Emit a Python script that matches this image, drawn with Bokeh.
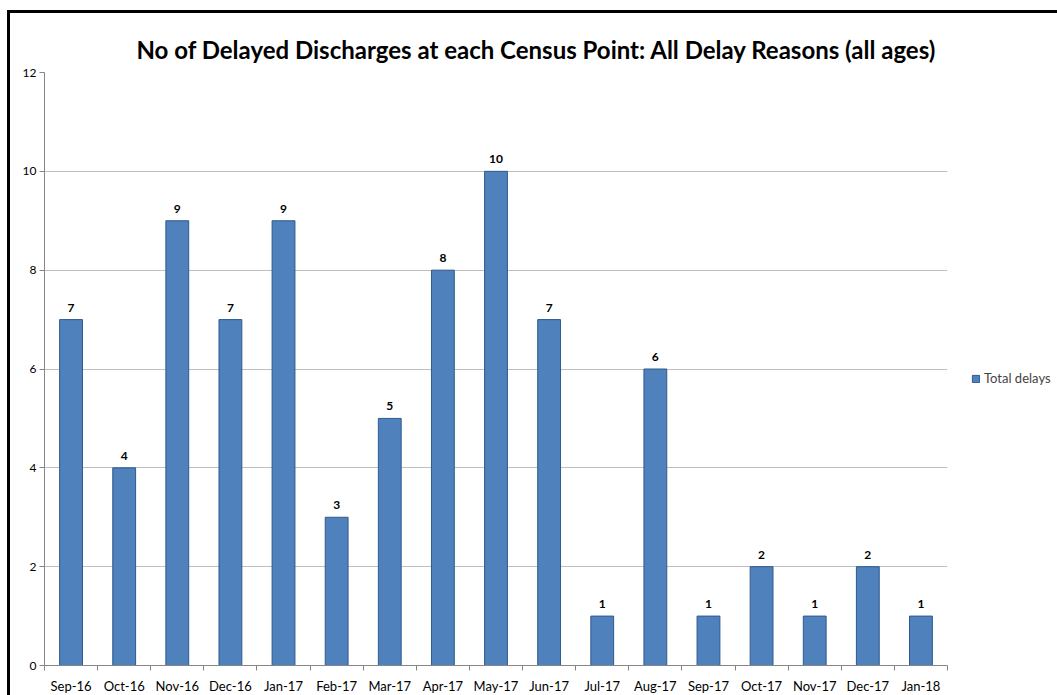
from bokeh.plotting import figure
from bokeh.models import (ColumnDataSource, LabelSet, FixedTicker, Legend, LegendItem,
                          Range1d, Title, InlineStyleSheet)
from bokeh.core.properties import value
from bokeh.embed import file_html
from bokeh.resources import INLINE

months = ["Sep-16", "Oct-16", "Nov-16", "Dec-16", "Jan-17", "Feb-17", "Mar-17", "Apr-17",
          "May-17", "Jun-17", "Jul-17", "Aug-17", "Sep-17", "Oct-17", "Nov-17", "Dec-17", "Jan-18"]
total_delays = [7, 4, 9, 7, 9, 3, 5, 8, 10, 7, 1, 6, 1, 2, 1, 2, 1]
y_ticks = [0, 2, 4, 6, 8, 10, 12]
title_text = "No of Delayed Discharges at each Census Point: All Delay Reasons (all ages)"
series_name = "Total delays"

FONT = "Lato"
n = len(months)
xs = [i + 0.5 for i in range(n)]
src = ColumnDataSource(dict(x=xs, y=total_delays, lbl=[str(v) for v in total_delays]))

p = figure(frame_width=903, frame_height=593, output_backend="svg", toolbar_location=None,
           x_range=Range1d(0, n), y_range=Range1d(0, 12),
           min_border_left=44, min_border_right=0, min_border_top=72, min_border_bottom=30)
p.outline_line_color = None
p.background_fill_color = "white"
p.border_fill_color = "white"

# outer chart border (only top and left edges are visible in the reference)
border_css = """
:host::after {
  content: "";
  position: absolute;
  left: 7px; top: 10px; right: 0px; bottom: 0px;
  border-left: 3px solid black;
  border-top: 3px solid black;
  z-index: 100;
  pointer-events: none;
}
"""
p.stylesheets = [InlineStyleSheet(css=border_css)]

p.title = Title(text=title_text, align="left", offset=92, text_font=FONT,
                text_font_size="24px", text_font_style="bold", text_color="black",
                standoff=18)

r = p.vbar(x="x", top="y", width=0.43, source=src, fill_color="#4F81BD",
           line_color="#2F5A8C", line_width=1)

labels = LabelSet(x="x", y="y", text="lbl", source=src, y_offset=8, text_align="center",
                  text_baseline="bottom", text_font=value(FONT), text_font_size=value("12px"),
                  text_font_style=value("bold"), text_color=value("black"))
p.add_layout(labels)

xa = p.xaxis[0]
xa.ticker = FixedTicker(ticks=xs, minor_ticks=list(range(n + 1)))
xa.major_label_overrides = {x: m for x, m in zip(xs, months)}
xa.major_tick_line_color = None
xa.minor_tick_line_color = "#868686"
xa.minor_tick_out = 5
xa.minor_tick_in = 0
xa.axis_line_color = "#868686"
xa.major_label_text_font = FONT
xa.major_label_text_font_size = "13px"
xa.major_label_text_color = "black"
xa.major_label_standoff = 6

ya = p.yaxis[0]
ya.ticker = FixedTicker(ticks=y_ticks)
ya.minor_tick_line_color = None
ya.major_tick_line_color = "#868686"
ya.major_tick_out = 5
ya.major_tick_in = 0
ya.axis_line_color = "#868686"
ya.major_label_text_font = FONT
ya.major_label_text_font_size = "12px"
ya.major_label_text_color = "black"
ya.major_label_standoff = 3

p.xgrid.grid_line_color = None
p.ygrid.ticker = FixedTicker(ticks=y_ticks)
p.ygrid.grid_line_color = "#BFBFBF"
p.ygrid.grid_line_width = 1

legend = Legend(items=[LegendItem(label=series_name, renderers=[r])], location=(24, 279),
                border_line_color=None, background_fill_alpha=0,
                label_text_font=FONT, label_text_font_size="13px",
                glyph_width=9, glyph_height=9, label_standoff=4, padding=0, margin=0)
p.add_layout(legend, "right")

open("out.html", "w").write(file_html(p, INLINE))
